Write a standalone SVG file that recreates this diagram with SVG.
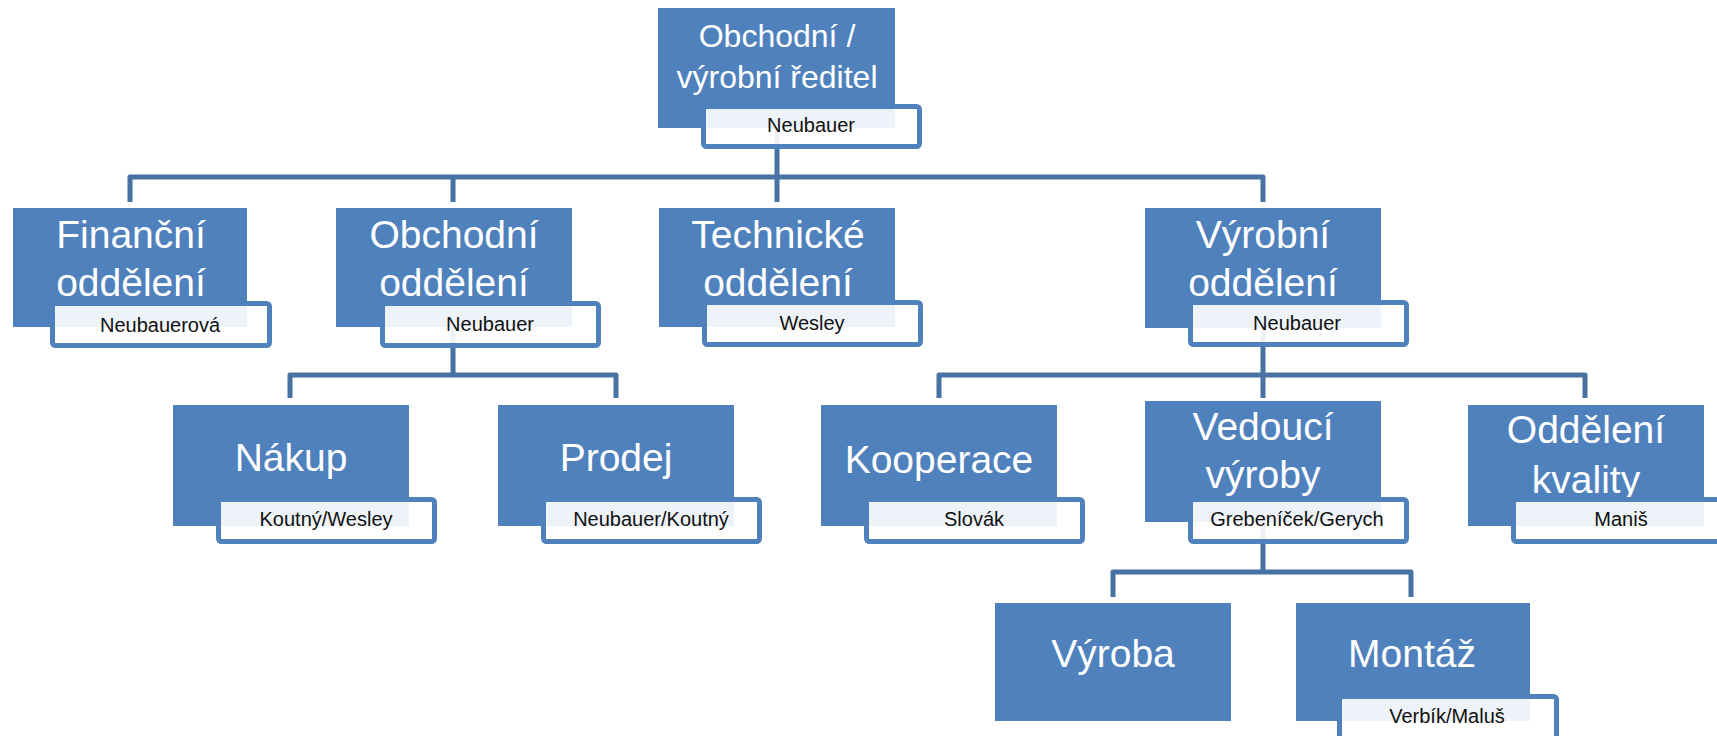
<svg xmlns="http://www.w3.org/2000/svg" width="1717" height="736" viewBox="0 0 1717 736">
<style>
.box{fill:#4f81bd;}
.lab{fill:#ffffff;fill-opacity:0.9;stroke:#4f81bd;stroke-width:5;}
.conn{fill:none;stroke:#4672a4;stroke-width:5;stroke-linejoin:round;stroke-linecap:butt;}
.t{font-family:"Liberation Sans",Arial,sans-serif;font-size:39px;fill:#ffffff;text-anchor:middle;}
.tt{font-family:"Liberation Sans",Arial,sans-serif;font-size:32px;fill:#ffffff;text-anchor:middle;}
.l{font-family:"Liberation Sans",Arial,sans-serif;font-size:20px;fill:#111111;text-anchor:middle;}
</style>
<rect width="1717" height="736" fill="#ffffff"/>
<g id="connectors">
<path class="conn" d="M777 128 V177 M130 202 V177 H1263 V202 M453 177 V202 M777 177 V202"/>
<path class="conn" d="M453 327 V375 M290 398 V375 H616 V398"/>
<path class="conn" d="M1263 327 V375 M939 398 V375 H1585 V398 M1263 375 V398"/>
<path class="conn" d="M1263 522 V572 M1113 597 V572 H1411 V597"/>
</g>
<g id="n-reditel">
<rect class="box" x="658" y="8" width="237" height="120"/>
<text class="tt" x="777" y="47">Obchodní /</text>
<text class="tt" x="777" y="88">výrobní ředitel</text>
<rect class="lab" x="703.5" y="106.5" width="216" height="40" rx="3"/>
<text class="l" x="811" y="132">Neubauer</text>
</g>
<g id="n-financni">
<rect class="box" x="13" y="208" width="234" height="119"/>
<text class="t" x="131" y="248">Finanční</text>
<text class="t" x="131" y="296">oddělení</text>
<rect class="lab" x="52.5" y="303.5" width="217" height="42" rx="3"/>
<text class="l" x="160" y="332">Neubauerová</text>
</g>
<g id="n-obchodni">
<rect class="box" x="336" y="208" width="236" height="119"/>
<text class="t" x="454" y="248">Obchodní</text>
<text class="t" x="454" y="296">oddělení</text>
<rect class="lab" x="382.5" y="303.5" width="216" height="42" rx="3"/>
<text class="l" x="490" y="331">Neubauer</text>
</g>
<g id="n-technicke">
<rect class="box" x="659" y="208" width="236" height="119"/>
<text class="t" x="778" y="248">Technické</text>
<text class="t" x="778" y="296">oddělení</text>
<rect class="lab" x="704.5" y="302.5" width="216" height="42" rx="3"/>
<text class="l" x="812" y="330">Wesley</text>
</g>
<g id="n-vyrobni">
<rect class="box" x="1145" y="208" width="236" height="120"/>
<text class="t" x="1263" y="248">Výrobní</text>
<text class="t" x="1263" y="296">oddělení</text>
<rect class="lab" x="1190.5" y="302.5" width="216" height="42" rx="3"/>
<text class="l" x="1297" y="330">Neubauer</text>
</g>
<g id="n-nakup">
<rect class="box" x="173" y="405" width="236" height="121"/>
<text class="t" x="291" y="471">Nákup</text>
<rect class="lab" x="218.5" y="499.5" width="216" height="42" rx="3"/>
<text class="l" x="326" y="526">Koutný/Wesley</text>
</g>
<g id="n-prodej">
<rect class="box" x="498" y="405" width="236" height="121"/>
<text class="t" x="616" y="471">Prodej</text>
<rect class="lab" x="543.5" y="499.5" width="216" height="42" rx="3"/>
<text class="l" x="651" y="526">Neubauer/Koutný</text>
</g>
<g id="n-kooperace">
<rect class="box" x="821" y="405" width="236" height="121"/>
<text class="t" x="939" y="473">Kooperace</text>
<rect class="lab" x="866.5" y="499.5" width="216" height="42" rx="3"/>
<text class="l" x="974" y="526">Slovák</text>
</g>
<g id="n-vedouci">
<rect class="box" x="1145" y="401" width="236" height="121"/>
<text class="t" x="1263" y="440">Vedoucí</text>
<text class="t" x="1263" y="488">výroby</text>
<rect class="lab" x="1190.5" y="499.5" width="216" height="42" rx="3"/>
<text class="l" x="1297" y="526">Grebeníček/Gerych</text>
</g>
<g id="n-kvalita">
<rect class="box" x="1468" y="405" width="236" height="121"/>
<text class="t" x="1586" y="443">Oddělení</text>
<text class="t" x="1586" y="493">kvality</text>
<rect class="lab" x="1513.5" y="499.5" width="216" height="42" rx="3"/>
<text class="l" x="1621" y="526">Maniš</text>
</g>
<g id="n-vyroba">
<rect class="box" x="995" y="603" width="236" height="118"/>
<text class="t" x="1113" y="667">Výroba</text>
</g>
<g id="n-montaz">
<rect class="box" x="1296" y="603" width="234" height="118"/>
<text class="t" x="1412" y="667">Montáž</text>
<rect class="lab" x="1339.5" y="696.5" width="217" height="44" rx="3"/>
<text class="l" x="1447" y="723">Verbík/Maluš</text>
</g>
</svg>
